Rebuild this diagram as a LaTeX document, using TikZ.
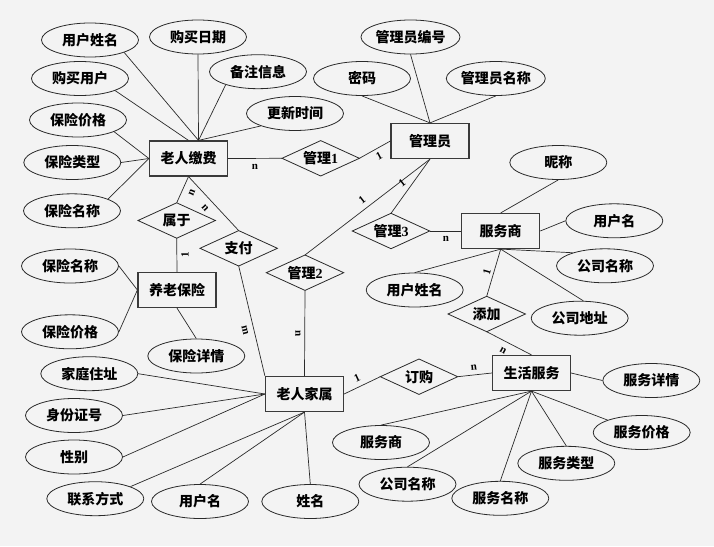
\documentclass[tikz,border=0pt]{standalone}
\usepackage{fontspec}
\setmainfont{Liberation Serif}
\newfontfamily\zhfam{Noto Sans CJK SC}
\usetikzlibrary{shapes.geometric,calc}
\definecolor{bgc}{HTML}{F3F3F3}
\definecolor{linec}{HTML}{2A2A2A}
\definecolor{boxc}{HTML}{3A3A3A}
\newcommand{\zhf}{\fontsize{14pt}{16pt}\selectfont\zhfam\bfseries}
\newcommand{\cardf}{\fontsize{11pt}{12pt}\selectfont\rmfamily\bfseries}
\newcommand{\dg}[1]{{\rmfamily\bfseries #1}}
\begin{document}
\begin{tikzpicture}[x=1pt,y=-1pt,
  attr/.style={ellipse, draw=linec, line width=0.8pt, minimum width=97pt, minimum height=34pt, inner sep=0pt, font=\zhf},
  ent/.style={rectangle, draw=boxc, line width=1.2pt, minimum width=78pt, minimum height=35pt, inner sep=0pt, font=\zhf},
  relbox/.style={minimum width=77pt, minimum height=35pt, inner sep=0pt, font=\zhf},
  reld/.style={draw=linec, line width=0.8pt},
  lk/.style={draw=linec, line width=0.7pt},
  card/.style={font=\cardf, inner sep=0pt}]
\path[fill=bgc] (0,0) rectangle (714,546);
% entities
\node[ent] (fee) at (188.5,158.5) {老人缴费};
\node[ent] (adm) at (430,141) {管理员};
\node[ent] (sp) at (500.7,231) {服务商};
\node[ent] (ins) at (177,290) {养老保险};
\node[ent] (fam) at (304.5,394) {老人家属};
\node[ent] (ls) at (531.5,373) {生活服务};
% relationships
\node[relbox] (r1) at (320.7,158.3) {管理\dg{1}};
\node[relbox] (bel) at (176.7,220.5) {属于};
\node[relbox] (pay) at (238.7,248.3) {支付};
\node[relbox] (r2) at (305,272.7) {管理\dg{2}};
\node[relbox] (r3) at (391,231) {管理\dg{3}};
\node[relbox] (add) at (486.7,314) {添加};
\node[relbox] (buy) at (419,376.7) {订购};
\foreach \r in {r1,bel,pay,r2,r3,add,buy}
  \draw[reld] (\r.west) -- (\r.north) -- (\r.east) -- (\r.south) -- cycle;
% attributes
\node[attr] (a1) at (90,40) {用户姓名};
\node[attr] (a2) at (198,37) {购买日期};
\node[attr] (a3) at (80,78.5) {购买用户};
\node[attr] (a4) at (258,71.7) {备注信息};
\node[attr] (a5) at (78,120) {保险价格};
\node[attr] (a6) at (295,113.5) {更新时间};
\node[attr] (a7) at (72.3,162.5) {保险类型};
\node[attr] (a8) at (72,210.8) {保险名称};
\node[attr] (b1) at (410.5,37) {管理员编号};
\node[attr] (b2) at (362,78.5) {密码};
\node[attr] (b3) at (495.8,78.5) {管理员名称};
\node[attr] (c1) at (558.3,162.5) {昵称};
\node[attr] (c2) at (614.3,220.8) {用户名};
\node[attr] (c3) at (605,265.8) {公司名称};
\node[attr] (c4) at (414.7,290) {用户姓名};
\node[attr] (c5) at (579.7,318.2) {公司地址};
\node[attr] (d1) at (70,266) {保险名称};
\node[attr] (d2) at (70,331.8) {保险价格};
\node[attr] (d3) at (196.3,356) {保险详情};
\node[attr] (e1) at (89.3,373.7) {家庭住址};
\node[attr] (e2) at (74,415.5) {身份证号};
\node[attr] (e3) at (74,457) {性别};
\node[attr] (e4) at (95.3,498.7) {联系方式};
\node[attr] (e5) at (200,501.5) {用户名};
\node[attr] (e6) at (310.3,501.5) {姓名};
\node[attr] (f1) at (651.3,380.5) {服务详情};
\node[attr] (f2) at (641.7,432.5) {服务价格};
\node[attr] (f3) at (381,442.5) {服务商};
\node[attr] (f4) at (566.3,463.3) {服务类型};
\node[attr] (f5) at (407.5,484.2) {公司名称};
\node[attr] (f6) at (500.3,498.3) {服务名称};
% attribute links
\coordinate (feeT) at ($(fee.north)+(10,0)$);
\draw[lk] (a1.-20) -- (feeT);
\draw[lk] (a3.-19) -- (fee.north);
\draw[lk] (a2.south) -- (feeT);
\draw[lk] (a4.-158) -- (feeT);
\draw[lk] (a6.-160) -- (feeT);
\draw[lk] (a5.-18) -- (fee.west);
\draw[lk] (a7.east) -- (fee.west);
\draw[lk] (a8.18) -- (fee.west);
\draw[lk] (b1.south) -- (adm.north);
\draw[lk] (b2.south) -- (adm.north);
\draw[lk] (b3.south) -- (adm.north);
\draw[lk] (c1.south) -- (sp.north);
\draw[lk] (c2.west) -- (sp.east);
\draw[lk] (c3.158) -- (sp.south);
\draw[lk] (c4.north) -- (sp.south);
\draw[lk] (c5.78) -- (sp.south);
\draw[lk] (d1.east) -- (ins.west);
\draw[lk] (d2.east) -- (ins.west);
\draw[lk] (d3.north) -- (ins.south);
\draw[lk] (e1.east) -- (fam.west);
\draw[lk] (e2.east) -- (fam.west);
\draw[lk] (e3.east) -- (fam.west);
\draw[lk] (e4.19) -- (fam.south);
\draw[lk] (e5.north) -- (fam.south);
\draw[lk] (e6.north) -- (fam.south);
\draw[lk] (ls.east) -- (f1.west);
\draw[lk] (f2.160) -- (ls.south);
\draw[lk] (f3.north) -- (ls.south);
\draw[lk] (f4.north) -- (ls.south);
\draw[lk] (f5.north) -- (ls.south);
\draw[lk] (f6.north) -- (ls.south);
% relationship links
\draw[lk] (fee.east) -- (r1.west);
\draw[lk] (r1.east) -- (adm.west);
\draw[lk] (bel.north) -- (fee.south);
\draw[lk] (pay.north) -- (fee.south);
\draw[lk] (bel.south) -- (ins.north);
\draw[lk] (pay.south) -- (fam.north west);
\draw[lk] (adm.south) -- (r2.north);
\draw[lk] (adm.south) -- (r3.north);
\draw[lk] (r3.east) -- (sp.west);
\draw[lk] (r2.south) -- (fam.north);
\draw[lk] (sp.south) -- (add.north);
\draw[lk] (add.south) -- (ls.north);
\draw[lk] (fam.east) -- (buy.west);
\draw[lk] (buy.east) -- (ls.west);
% cardinalities
\node[card] (k1) at (255,167) {n};
\node[card, rotate=28] (k2) at (379,156) {1};
\node[card, rotate=67] (k3) at (192,193) {n};
\node[card, rotate=-48] (k4) at (205,208) {n};
\node[card, rotate=90] (k5) at (185,255) {1};
\node[card, rotate=-76] (k6) at (245,330) {m};
\node[card, rotate=-90] (k7) at (298,334) {n};
\node[card, rotate=38] (k8) at (362,200) {1};
\node[card, rotate=38] (k9) at (402,183) {1};
\node[card] (k10) at (446,239) {n};
\node[card, rotate=74] (k11) at (487,272) {1};
\node[card, rotate=-28.5] (k12) at (503,351) {n};
\node[card, rotate=25] (k13) at (357,378) {1};
\node[card, rotate=6] (k14) at (474,368) {n};
\end{tikzpicture}
\end{document}
